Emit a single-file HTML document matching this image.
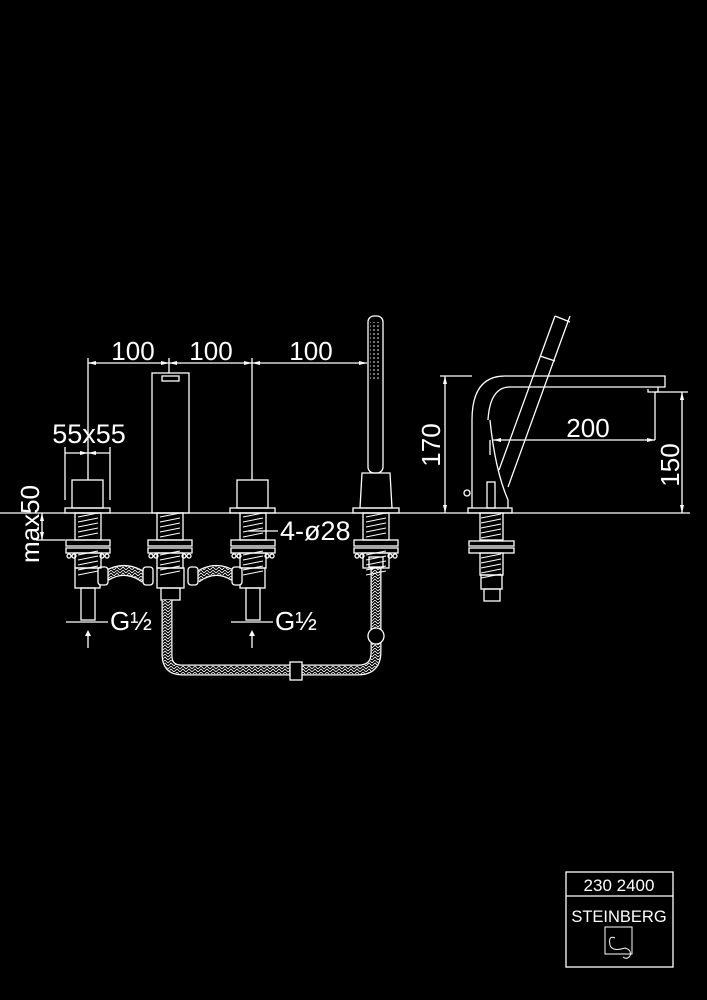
<!DOCTYPE html>
<html><head><style>
html,body{margin:0;padding:0;background:#000;}
svg{display:block}
text{font-family:"Liberation Sans",sans-serif;fill:#fff}
</style></head><body>
<svg width="707" height="1000" viewBox="0 0 707 1000" xmlns="http://www.w3.org/2000/svg">
<defs>
<g id="thr" stroke="#fff" stroke-width="1" fill="none">
<line x1="-10" y1="3" x2="10" y2="-1"/><line x1="-10" y1="8" x2="10" y2="4"/><line x1="-10" y1="13" x2="10" y2="9"/><line x1="-10" y1="18" x2="10" y2="14"/><line x1="-10" y1="23" x2="10" y2="19"/>
</g>
<g id="under" stroke="#fff" stroke-width="1.3" fill="none">
<rect x="-13" y="513" width="26" height="27"/>
<use href="#thr" y="514"/>
<rect x="-22" y="540" width="44" height="6"/>
<rect x="-22" y="548" width="44" height="5"/>
<circle cx="-19" cy="556" r="2"/><circle cx="-14" cy="556" r="2"/><circle cx="14" cy="556" r="2"/><circle cx="19" cy="556" r="2"/>
<rect x="-13" y="553" width="26" height="15"/>
<use href="#thr" y="552"/>
</g>
<pattern id="hose" width="6" height="6" patternUnits="userSpaceOnUse">
<path d="M0 3 L3 0 L6 3 M0 6 L3 3 L6 6" stroke="#fff" stroke-width="0.8" fill="none"/>
</pattern>
<pattern id="dots" width="4" height="4" patternUnits="userSpaceOnUse">
<circle cx="2" cy="2" r="0.8" fill="#fff"/>
</pattern>
</defs>
<g stroke="#fff" stroke-width="1.3" fill="none">
<line x1="0" y1="513" x2="690" y2="513"/>
<line x1="88" y1="363" x2="367" y2="363"/>
<line x1="88" y1="358" x2="88" y2="480"/>
<line x1="169" y1="358" x2="169" y2="373"/>
<line x1="252" y1="358" x2="252" y2="480"/>
<rect x="72" y="480" width="31" height="28"/>
<rect x="65" y="508" width="45" height="5"/>
<line x1="65" y1="453" x2="110" y2="453"/>
<line x1="65" y1="447" x2="65" y2="500"/>
<line x1="110" y1="447" x2="110" y2="500"/>
<rect x="152" y="373" width="37" height="140"/>
<rect x="162" y="376" width="17" height="5"/>
<rect x="237" y="480" width="31" height="28"/>
<rect x="230" y="508" width="45" height="5"/>
<rect x="368" y="316" width="15" height="157" rx="6"/>
<rect x="370" y="322" width="11" height="58" fill="url(#dots)" stroke="none"/>
<path d="M362 473 L390 473 L392 508 L360 508 Z"/>
<rect x="353" y="508" width="46" height="5"/>
<line x1="42" y1="513" x2="42" y2="540"/>
<line x1="36" y1="540" x2="65" y2="540"/>
<line x1="248" y1="531" x2="278" y2="531"/>
<rect x="75" y="568" width="25" height="20"/>
<rect x="81" y="588" width="14" height="32"/>
<rect x="240" y="568" width="25" height="20"/>
<rect x="246" y="588" width="14" height="32"/>
<rect x="157" y="568" width="27" height="20"/>
<rect x="161" y="588" width="19" height="12"/>
<path d="M106 576 Q125 564 145 578" stroke-width="11"/>
<path d="M106 576 Q125 564 145 578" stroke-width="8.4" stroke="#000"/>
<path d="M106 576 Q125 564 145 578" stroke-width="8" stroke="url(#hose)"/>
<path d="M196 578 Q215 564 234 576" stroke-width="11"/>
<path d="M196 578 Q215 564 234 576" stroke-width="8.4" stroke="#000"/>
<path d="M196 578 Q215 564 234 576" stroke-width="8" stroke="url(#hose)"/>
<rect x="98" y="567" width="10" height="18" rx="3" fill="#000"/>
<rect x="143" y="567" width="10" height="18" rx="3" fill="#000"/>
<rect x="188" y="567" width="10" height="18" rx="3" fill="#000"/>
<rect x="232" y="567" width="10" height="18" rx="3" fill="#000"/>
<path d="M167 600 L167 655 Q167 670 182 670 L358 670 Q376 670 376 652 L376 565" stroke-width="11"/>
<path d="M167 600 L167 655 Q167 670 182 670 L358 670 Q376 670 376 652 L376 565" stroke-width="8.4" stroke="#000"/>
<path d="M167 600 L167 655 Q167 670 182 670 L358 670 Q376 670 376 652 L376 565" stroke-width="8" stroke="url(#hose)"/>
<rect x="369" y="557" width="14" height="10" fill="#000"/>
<circle cx="376" cy="636" r="8" fill="#000"/>
<rect x="290" y="662" width="12" height="18" fill="#000"/>
<line x1="66" y1="622" x2="108" y2="622"/>
<line x1="231" y1="622" x2="273" y2="622"/>
<line x1="88" y1="633" x2="88" y2="648"/>
<line x1="252" y1="633" x2="252" y2="648"/>
<path d="M472 508 L472 420 Q472 376 505 376 L665 376 L665 387 L510 387 Q490 387 488 420"/>
<path d="M490 420 Q495 470 508 500 L508 508"/>
<path d="M658 387 L658 392 L648 392 L648 389"/>
<line x1="570" y1="316" x2="508" y2="487"/>
<line x1="555" y1="316" x2="499" y2="470"/>
<line x1="555" y1="316" x2="570" y2="322"/>
<line x1="540" y1="356" x2="555" y2="361"/>
<rect x="487" y="482" width="8" height="26"/>
<rect x="468" y="508" width="44" height="5"/>
<circle cx="467" cy="493" r="3"/>
<line x1="440" y1="376" x2="472" y2="376"/>
<line x1="445" y1="376" x2="445" y2="513"/>
<line x1="655" y1="392" x2="688" y2="392"/>
<line x1="682" y1="392" x2="682" y2="513"/>
<line x1="655" y1="392" x2="655" y2="440"/>
<line x1="493" y1="440" x2="655" y2="440"/>
<line x1="490" y1="440" x2="490" y2="455"/>
<rect x="480" y="513" width="23" height="27"/>
<rect x="469" y="541" width="45" height="5"/>
<rect x="469" y="548" width="45" height="5"/>
<rect x="480" y="553" width="23" height="22"/>
<rect x="481" y="575" width="21" height="14"/>
<rect x="484" y="589" width="16" height="12"/>
<rect x="566" y="872" width="107" height="95"/>
<line x1="566" y1="896" x2="673" y2="896"/>
<rect x="605" y="927" width="27" height="27" stroke-width="1"/>
<path d="M615 938 Q608 935 610 945 Q612 952 625 948 Q632 950 630 956 Q627 960 623 957" stroke-width="1"/>
</g>
<use href="#under" x="88"/>
<use href="#under" x="170"/>
<use href="#under" x="253"/>
<use href="#under" x="376"/>
<use href="#thr" x="491" y="515"/>
<use href="#thr" x="491" y="555"/>
<g fill="#fff">
<path d="M88 363 l8 -2 v4z M169 363 l-8 -2 v4z M169 363 l8 -2 v4z M252 363 l-8 -2 v4z M252 363 l8 -2 v4z M367 363 l-8 -2 v4z"/>
<path d="M88 453 l-8 -2 v4z M88 453 l8 -2 v4z"/>
<path d="M42 513 l-2 8 h4z M42 540 l-2 -8 h4z"/>
<path d="M88 630 l-3 6 h6z M252 630 l-3 6 h6z"/>
<path d="M445 376 l-2 8 h4z M445 513 l-2 -8 h4z M682 392 l-2 8 h4z M682 513 l-2 -8 h4z M493 440 l8 -2 v4z M655 440 l-8 -2 v4z"/>
</g>
<text x="133" y="360" font-size="26" text-anchor="middle">100</text>
<text x="211" y="360" font-size="26" text-anchor="middle">100</text>
<text x="311" y="360" font-size="26" text-anchor="middle">100</text>
<text x="89" y="443" font-size="27" text-anchor="middle">55x55</text>
<text x="280" y="540" font-size="27">4-ø28</text>
<text x="110" y="630" font-size="26">G½</text>
<text x="275" y="630" font-size="26">G½</text>
<text transform="translate(39 524) rotate(-90)" font-size="26" text-anchor="middle">max50</text>
<text transform="translate(440 445) rotate(-90)" font-size="26" text-anchor="middle">170</text>
<text transform="translate(679 465) rotate(-90)" font-size="26" text-anchor="middle">150</text>
<text x="588" y="437" font-size="26" text-anchor="middle">200</text>
<text x="619" y="891" font-size="17" text-anchor="middle">230 2400</text>
<text x="619" y="922" font-size="16.5" text-anchor="middle" fill="#ccc">STEINBERG</text>
</svg>
</body></html>
